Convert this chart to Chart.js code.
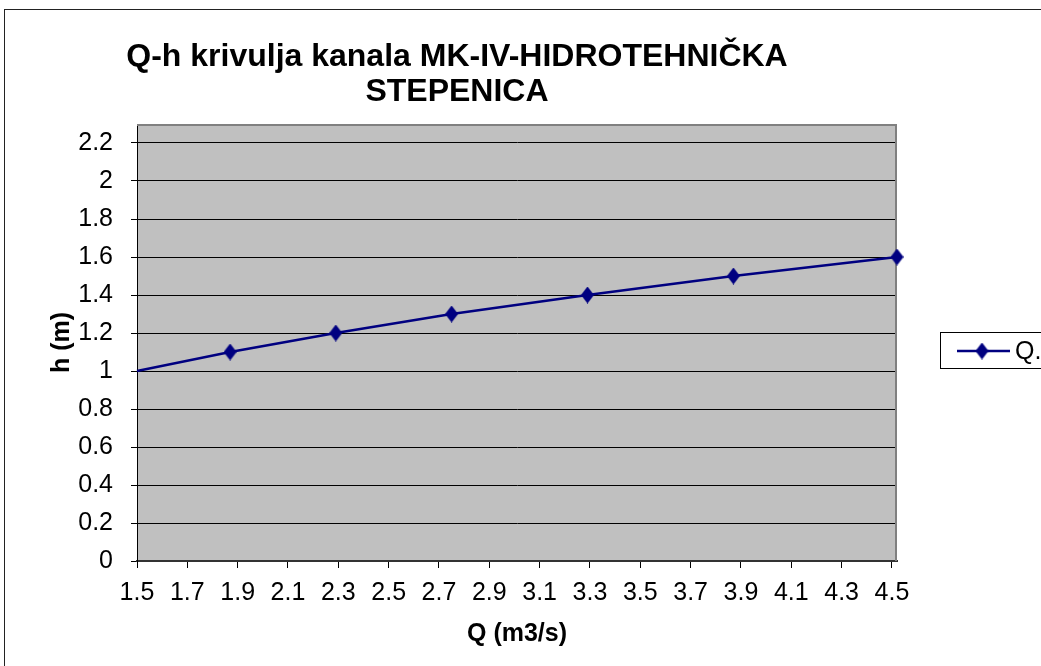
<!DOCTYPE html>
<html>
<head>
<meta charset="utf-8">
<title>Q-h krivulja</title>
<script src="https://cdn.jsdelivr.net/npm/chart.js@4/dist/chart.umd.min.js"></script>
<style>
  html, body { margin: 0; padding: 0; background: #fff; overflow: hidden; }
  #wrap { position: absolute; left: 0; top: 0; width: 1100px; height: 700px; }
</style>
</head>
<body>
<div id="wrap"><canvas id="qhChart" width="1100" height="700"></canvas></div>
<script>
// chart data
const titleLines = ['Q-h krivulja kanala MK-IV-HIDROTEHNIČKA', 'STEPENICA'];
const seriesLabel = 'Q.h';
const qValues = [1.5, 1.87, 2.29, 2.75, 3.29, 3.87, 4.52];
const hValues = [1.0, 1.1, 1.2, 1.3, 1.4, 1.5, 1.6];
const xTicks = [1.5, 1.7, 1.9, 2.1, 2.3, 2.5, 2.7, 2.9, 3.1, 3.3, 3.5, 3.7, 3.9, 4.1, 4.3, 4.5];
const yTicks = [0, 0.2, 0.4, 0.6, 0.8, 1, 1.2, 1.4, 1.6, 1.8, 2, 2.2];
const xTitle = 'Q (m3/s)';
const yTitle = 'h (m)';

const FONT = '"Liberation Sans", Arial, sans-serif';
const lineColor = '#000080';

// diamond marker, a bit taller than wide like the Excel one
function makeDiamond(w, h, color) {
  const c = document.createElement('canvas');
  c.width = w;
  c.height = h;
  const g = c.getContext('2d');
  g.fillStyle = color;
  g.beginPath();
  g.moveTo(w / 2, 0);
  g.lineTo(w, h / 2);
  g.lineTo(w / 2, h);
  g.lineTo(0, h / 2);
  g.closePath();
  g.fill();
  return c;
}
const diamond = makeDiamond(13, 17, lineColor);

const plotBackground = {
  id: 'plotBackground',
  beforeDraw(chart) {
    const { ctx, chartArea } = chart;
    ctx.save();
    ctx.fillStyle = '#fff';
    ctx.fillRect(0, 0, chart.width, chart.height);
    // outer chart border
    ctx.strokeStyle = '#222';
    ctx.lineWidth = 1;
    ctx.strokeRect(4.5, 9.5, 1300, 900);
    ctx.fillStyle = '#c0c0c0';
    ctx.fillRect(chartArea.left, chartArea.top, chartArea.width, chartArea.height);
    ctx.restore();
  },
  beforeDatasetsDraw(chart) {
    const { ctx, chartArea } = chart;
    ctx.save();
    ctx.strokeStyle = '#808080';
    ctx.lineWidth = 2;
    ctx.beginPath();
    ctx.moveTo(chartArea.left, chartArea.top + 1);
    ctx.lineTo(chartArea.right - 1, chartArea.top + 1);
    ctx.lineTo(chartArea.right - 1, chartArea.bottom);
    ctx.stroke();
    ctx.restore();
  },
};

const titleAndLegend = {
  id: 'titleAndLegend',
  afterDraw(chart) {
    const { ctx } = chart;
    ctx.save();
    // title
    ctx.fillStyle = '#000';
    ctx.font = 'bold 32px ' + FONT;
    ctx.textAlign = 'center';
    ctx.textBaseline = 'middle';
    titleLines.forEach((line, i) => {
      ctx.fillText(line, 457, 57 + i * 35);
    });

    // legend box
    ctx.strokeStyle = '#000';
    ctx.lineWidth = 1;
    ctx.strokeRect(940.5, 332.5, 200, 36);
    const ds = chart.data.datasets[0];
    ctx.strokeStyle = ds.borderColor;
    ctx.lineWidth = ds.borderWidth;
    ctx.beginPath();
    ctx.moveTo(957, 351);
    ctx.lineTo(1010, 351);
    ctx.stroke();
    ctx.drawImage(diamond, 982 - diamond.width / 2, 351 - diamond.height / 2);
    ctx.fillStyle = '#000';
    ctx.font = '25px ' + FONT;
    ctx.textAlign = 'left';
    ctx.fillText(ds.label, 1015, 352);
    ctx.restore();
  },
};

const ctx = document.getElementById('qhChart').getContext('2d');
new Chart(ctx, {
  type: 'scatter',
  data: {
    datasets: [
      {
        label: seriesLabel,
        data: qValues.map((q, i) => ({ x: q, y: hValues[i] })),
        showLine: true,
        borderColor: lineColor,
        backgroundColor: lineColor,
        borderWidth: 2.5,
        pointStyle: (c) => (c.dataIndex === 0 ? false : diamond),
        clip: false,
      },
    ],
  },
  options: {
    responsive: false,
    animation: false,
    layout: {
      padding: { top: 124, left: 0, right: 1100 - 897, bottom: 0 },
    },
    plugins: {
      legend: { display: false },
      tooltip: { enabled: false },
      title: { display: false },
    },
    scales: {
      x: {
        type: 'linear',
        min: 1.5,
        max: 4.52,
        afterBuildTicks: (axis) => {
          axis.ticks = xTicks.map((v) => ({ value: v }));
        },
        afterFit: (scale) => {
          scale.height = 700 - 561;
        },
        grid: { drawOnChartArea: false, color: '#000', tickLength: 7 },
        border: { color: '#333', width: 2 },
        ticks: {
          color: '#000',
          font: { family: FONT, size: 25 },
          padding: 10,
          maxRotation: 0,
          autoSkip: false,
          callback: (v) => String(Math.round(v * 10) / 10),
        },
        title: {
          display: true,
          text: xTitle,
          color: '#000',
          font: { family: FONT, size: 25, weight: 'bold' },
          padding: { top: 0, bottom: 51 },
        },
      },
      y: {
        min: 0,
        max: 2.3,
        afterBuildTicks: (axis) => {
          axis.ticks = yTicks.map((v) => ({ value: v }));
        },
        afterFit: (scale) => {
          scale.width = 137;
        },
        grid: { color: '#000', tickLength: 6 },
        border: { color: '#000', width: 1 },
        ticks: {
          color: '#000',
          font: { family: FONT, size: 25 },
          padding: 18,
          callback: (v) => String(Math.round(v * 10) / 10),
        },
        title: {
          display: true,
          text: yTitle,
          color: '#000',
          font: { family: FONT, size: 25, weight: 'bold' },
          padding: { top: 47, bottom: 0 },
        },
      },
    },
  },
  plugins: [plotBackground, titleAndLegend],
});
</script>
</body>
</html>
